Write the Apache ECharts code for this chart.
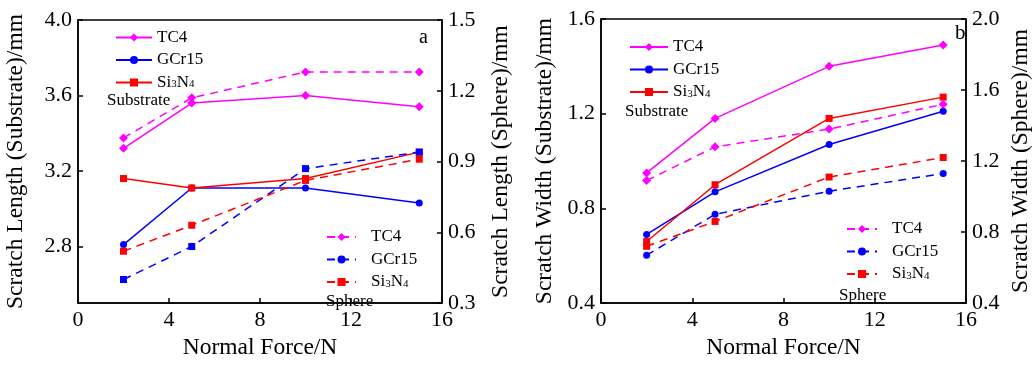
<!DOCTYPE html>
<html>
<head>
<meta charset="utf-8">
<script src="https://cdn.jsdelivr.net/npm/echarts@6/dist/echarts.min.js"></script>
<style>
  html, body { margin: 0; background: #fff; }
  #chart { width: 1034px; height: 365px; }
</style>
</head>
<body>
<div id="chart"></div>
<script>
// normal force (N)
const forces = [2, 5, 10, 15];

// panel a: scratch length, substrate (left axis) and sphere (right axis)
const lenSubTC4 = [3.32, 3.56, 3.60, 3.54];
const lenSubGCr15 = [2.81, 3.11, 3.11, 3.03];
const lenSubSi3N4 = [3.16, 3.11, 3.16, 3.30];
const lenSphTC4 = [1.00, 1.17, 1.28, 1.28];
const lenSphGCr15 = [0.40, 0.54, 0.87, 0.94];
const lenSphSi3N4 = [0.52, 0.63, 0.82, 0.91];

// panel b: scratch width
const widSubTC4 = [0.95, 1.18, 1.40, 1.49];
const widSubGCr15 = [0.69, 0.87, 1.07, 1.21];
const widSubSi3N4 = [0.66, 0.90, 1.18, 1.27];
const widSphTC4 = [1.09, 1.28, 1.38, 1.52];
const widSphGCr15 = [0.67, 0.90, 1.03, 1.13];
const widSphSi3N4 = [0.72, 0.86, 1.11, 1.22];

const lenSubTicks = [2.8, 3.2, 3.6, 4.0];
const lenSphTicks = [0.3, 0.6, 0.9, 1.2, 1.5];
const widSubTicks = [0.4, 0.8, 1.2, 1.6];
const widSphTicks = [0.4, 0.8, 1.2, 1.6, 2.0];

const FONT = "'Liberation Serif', 'Times New Roman', serif";
const MAGENTA = "#ff00ff", BLUE = "#0000ff", RED = "#ff0000";

const chart = echarts.init(document.getElementById("chart"));

function pairs(vals, itemSymbol) {
  return vals.map((v, i) => itemSymbol ? { value: [forces[i], v], symbol: itemSymbol } : [forces[i], v]);
}

function line(name, vals, color, symbol, dashed, gi, yi, itemSymbol) {
  return {
    name: name,
    type: "line",
    xAxisIndex: gi,
    yAxisIndex: yi,
    data: pairs(vals, itemSymbol),
    symbol: symbol,
    symbolSize: symbol === "diamond" ? 9 : 7,
    color: color,
    lineStyle: { color: color, width: 1.5, type: dashed ? [8, 6] : "solid" },
    itemStyle: { color: color },
    z: 3,
  };
}

function xAxis(gi) {
  return {
    type: "value", gridIndex: gi, min: 0, max: 16, interval: 4,
    name: "Normal Force/N", nameLocation: "middle", nameGap: 31,
    nameTextStyle: { fontFamily: FONT, fontSize: 23.5, color: "#000" },
    axisLine: { lineStyle: { color: "#000", width: 1.5 } },
    axisTick: { inside: true, length: 5, lineStyle: { color: "#000", width: 1.5 } },
    axisLabel: { fontFamily: FONT, fontSize: 22, color: "#000", margin: 6 },
    splitLine: { show: false },
  };
}

function yAxis(gi, pos, min, max, ticks, name, gap) {
  return {
    type: "value", gridIndex: gi, position: pos, min: min, max: max,
    name: name, nameLocation: "middle", nameGap: gap, nameRotate: 90,
    nameTextStyle: { fontFamily: FONT, fontSize: 23.5, color: "#000" },
    axisLine: { show: true, onZero: false, lineStyle: { color: "#000", width: 1.5 } },
    axisTick: { inside: true, length: 5, customValues: ticks, lineStyle: { color: "#000", width: 1.5 } },
    axisLabel: { fontFamily: FONT, fontSize: 22, color: "#000", margin: 6, customValues: ticks,
      formatter: (v) => v.toFixed(1) },
    splitLine: { show: false },
  };
}

const rich = { s: { fontFamily: FONT, fontSize: 11, color: "#000", lineHeight: 6, verticalAlign: "bottom" } };
function legendText(name) {
  const n = name.split("|")[0];
  return n === "Si3N4" ? "Si{s|3}N{s|4}" : n;
}
function legend(names, left, top, itemWidth, textPad) {
  return {
    data: names, left: left, top: top, orient: "vertical", padding: 0,
    itemWidth: itemWidth, itemHeight: 10, itemGap: 5.5,
    formatter: legendText, selectedMode: false,
    textStyle: { fontFamily: FONT, fontSize: 17, lineHeight: 15, color: "#000", rich: rich, padding: [0, 0, 0, textPad] },
  };
}

function txt(left, top, text, size) {
  return { type: "text", left: left, top: top, z: 10,
    style: { text: text, fontFamily: FONT, fontSize: size, fill: "#000" } };
}

const option = {
  backgroundColor: "#fff",
  animation: false,
  grid: [
    { left: 78, top: 20, width: 364, height: 287, show: true, borderColor: "#000", borderWidth: 1.5 },
    { left: 601, top: 19, width: 370, height: 293, show: true, borderColor: "#000", borderWidth: 1.5 },
  ],
  xAxis: [xAxis(0), xAxis(1)],
  yAxis: [
    yAxis(0, "left", 2.5, 4.0, lenSubTicks, "Scratch Length (Substrate)/mm", 50),
    yAxis(0, "right", 0.3, 1.5, lenSphTicks, "Scratch Length (Sphere)/mm", 47),
    yAxis(1, "left", 0.4, 1.6, widSubTicks, "Scratch Width (Substrate)/mm", 44),
    yAxis(1, "right", 0.4, 2.0, widSphTicks, "Scratch Width (Sphere)/mm", 43),
  ],
  legend: [
    legend(["TC4|a1", "GCr15|a1", "Si3N4|a1"], 115, 29, 36, 0),
    legend(["TC4|a2", "GCr15|a2", "Si3N4|a2"], 326, 228.5, 29, 10),
    legend(["TC4|b1", "GCr15|b1", "Si3N4|b1"], 629, 38.5, 38, 0),
    legend(["TC4|b2", "GCr15|b2", "Si3N4|b2"], 846, 220.5, 30, 10),
  ],
  graphic: [
    txt(107, 92, "Substrate", 17),
    txt(326, 293, "Sphere", 17),
    txt(419, 28, "a", 20),
    txt(625, 103, "Substrate", 17),
    txt(839, 287, "Sphere", 17),
    txt(955, 23, "b", 21),
  ],
  series: [
    line("TC4|a1", lenSubTC4, MAGENTA, "diamond", false, 0, 0),
    line("GCr15|a1", lenSubGCr15, BLUE, "circle", false, 0, 0),
    line("Si3N4|a1", lenSubSi3N4, RED, "rect", false, 0, 0),
    line("TC4|a2", lenSphTC4, MAGENTA, "diamond", true, 0, 1),
    line("GCr15|a2", lenSphGCr15, BLUE, "circle", true, 0, 1, "rect"),
    line("Si3N4|a2", lenSphSi3N4, RED, "rect", true, 0, 1),
    line("TC4|b1", widSubTC4, MAGENTA, "diamond", false, 1, 2),
    line("GCr15|b1", widSubGCr15, BLUE, "circle", false, 1, 2),
    line("Si3N4|b1", widSubSi3N4, RED, "rect", false, 1, 2),
    line("TC4|b2", widSphTC4, MAGENTA, "diamond", true, 1, 3),
    line("GCr15|b2", widSphGCr15, BLUE, "circle", true, 1, 3),
    line("Si3N4|b2", widSphSi3N4, RED, "rect", true, 1, 3),
  ],
};

chart.setOption(option);
</script>
</body>
</html>
